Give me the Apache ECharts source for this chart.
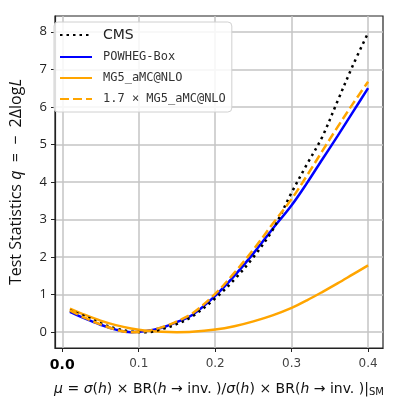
<!DOCTYPE html>
<html>
<head>
<meta charset="utf-8">
<script src="https://cdn.jsdelivr.net/npm/echarts@6/dist/echarts.min.js"></script>
<style>
  html, body { margin: 0; padding: 0; background: #fff; }
  #chart { width: 399px; height: 404px; }
</style>
</head>
<body>
<div id="chart"></div>
<script>
// signal strength mu (x values shared by every curve)
const muValues = [0.01, 0.03, 0.05, 0.07, 0.09, 0.11, 0.13, 0.15, 0.17, 0.2, 0.225, 0.25, 0.275, 0.3, 0.32, 0.34, 0.36, 0.38, 0.4];
// test statistics q = -2 dlogL
const cmsValues = [0.58, 0.42, 0.24, 0.1, 0.02, 0.0, 0.08, 0.22, 0.42, 0.9, 1.4, 2.0, 2.72, 3.72, 4.47, 5.2, 6.15, 7.1, 7.97];
const powhegValues = [0.54, 0.36, 0.2, 0.07, 0.0, 0.03, 0.12, 0.27, 0.46, 0.97, 1.5, 2.1, 2.75, 3.38, 3.97, 4.6, 5.22, 5.86, 6.5];
const mg5Values = [0.63, 0.46, 0.31, 0.19, 0.1, 0.04, 0.01, 0.0, 0.01, 0.07, 0.16, 0.29, 0.45, 0.65, 0.85, 1.07, 1.3, 1.54, 1.78];
const mg5ScaledValues = [0.58, 0.38, 0.21, 0.07, 0.0, 0.03, 0.13, 0.29, 0.5, 1.02, 1.58, 2.2, 2.88, 3.55, 4.17, 4.82, 5.46, 6.08, 6.67];

const xTicks = [0, 0.1, 0.2, 0.3, 0.4];
const yTicks = [0, 1, 2, 3, 4, 5, 6, 7, 8];
const seriesNames = ["CMS", "POWHEG-Box", "MG5_aMC@NLO", "1.7 × MG5_aMC@NLO"];

const toPoints = vals => muValues.map((m, i) => [m, vals[i]]);

const chart = echarts.init(document.getElementById("chart"));

const lineSeries = (name, vals, color, type, z) => ({
  name: name,
  type: "line",
  data: toPoints(vals),
  smooth: 0.35,
  showSymbol: false,
  symbol: "none",
  z: z,
  lineStyle: { color: color, width: 2.5, type: type },
  itemStyle: { color: color }
});

const option = {
  animation: false,
  grid: {
    left: 48, right: 16, top: 16, bottom: 56,
    show: true, borderColor: "#222", borderWidth: 1.2
  },
  legend: {
    left: 54, top: 22,
    orient: "vertical",
    itemWidth: 32, itemHeight: 12, itemGap: 9,
    padding: [6, 6, 7, 5],
    borderColor: "#d0d0d0", borderWidth: 1, borderRadius: 4,
    backgroundColor: "rgba(255,255,255,0.85)",
    itemStyle: { opacity: 0, borderWidth: 0 },
    data: seriesNames,
    formatter: name => (name === "CMS" ? "{s|" + name + "}" : "{m|" + name + "}"),
    textStyle: {
      padding: [0, 0, 0, 6],
      rich: {
        s: { fontFamily: "DejaVu Sans", fontSize: 14, color: "#222" },
        m: { fontFamily: "DejaVu Sans Mono", fontSize: 12, color: "#333" }
      }
    }
  },
  xAxis: {
    type: "value",
    min: -0.0095, max: 0.4195,
    name: "{i|μ} = {i|σ}({i|h}) × BR({i|h} → inv. )/{i|σ}({i|h}) × BR({i|h} → inv. )|{sub|SM}",
    nameLocation: "middle",
    nameGap: 33,
    nameTextStyle: {
      fontFamily: "DejaVu Sans", fontSize: 14, color: "#111",
      rich: {
        i: { fontFamily: "DejaVu Sans", fontStyle: "italic", fontSize: 14, color: "#111" },
        sub: { fontFamily: "DejaVu Sans", fontSize: 10, color: "#111", verticalAlign: "bottom", padding: [6, 0, 0, 0] }
      }
    },
    axisLine: { show: true, onZero: false, lineStyle: { color: "#222", width: 1.2 } },
    axisTick: { show: true, inside: false, length: 4, customValues: xTicks, lineStyle: { color: "#222" } },
    axisLabel: {
      customValues: xTicks,
      margin: 10,
      formatter: v => (v === 0 ? "{b|0.0}" : "{n|" + v.toFixed(1) + "}"),
      rich: {
        b: { fontFamily: "DejaVu Sans", fontSize: 14, color: "#000", fontWeight: "bold" },
        n: { fontFamily: "DejaVu Sans", fontSize: 12, color: "#444" }
      }
    },
    splitLine: { show: true, lineStyle: { color: "#c4c4c4", width: 1.5 } }
  },
  yAxis: {
    type: "value",
    min: -0.42, max: 8.42,
    name: "Test Statistics {i|q}  =  −  2Δlog{i|L}",
    nameLocation: "middle",
    nameRotate: 90,
    nameGap: 31,
    nameTextStyle: {
      fontFamily: "Open Sans", fontSize: 16, color: "#111",
      rich: {
        i: { fontFamily: "Open Sans", fontStyle: "italic", fontSize: 16, color: "#111" }
      }
    },
    axisLine: { show: true, onZero: false, lineStyle: { color: "#222", width: 1.2 } },
    axisTick: { show: true, inside: false, length: 4, customValues: yTicks, lineStyle: { color: "#222" } },
    axisLabel: {
      customValues: yTicks,
      margin: 8,
      fontFamily: "Open Sans", fontSize: 13, color: "#222"
    },
    splitLine: { show: true, lineStyle: { color: "#c4c4c4", width: 1.5 } }
  },
  series: [
    lineSeries(seriesNames[0], cmsValues, "#000000", [2.5, 4], 4),
    lineSeries(seriesNames[1], powhegValues, "#0000ff", "solid", 2),
    lineSeries(seriesNames[2], mg5Values, "#ffa500", "solid", 3),
    lineSeries(seriesNames[3], mg5ScaledValues, "#ffa500", [9, 4], 5)
  ]
};

chart.setOption(option);
window.addEventListener("resize", () => {
  chart.resize();
});
</script>
</body>
</html>
